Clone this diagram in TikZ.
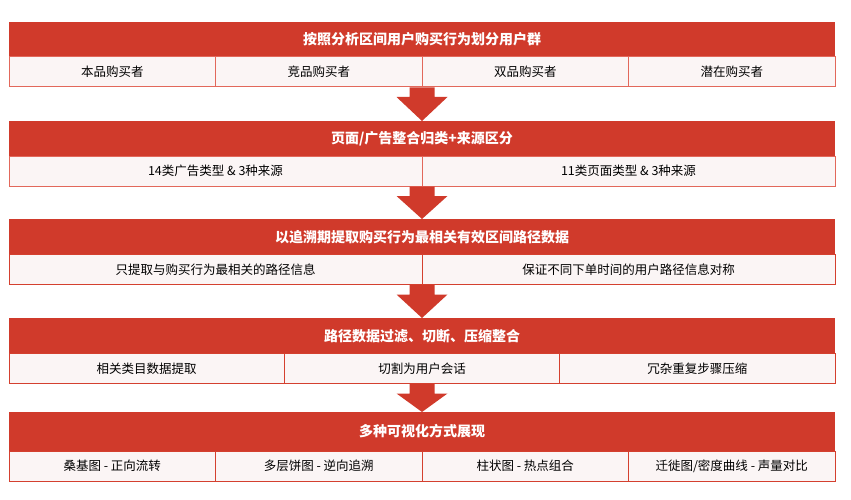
\documentclass[tikz,border=0pt]{standalone}
\usepackage{fontspec}
\newfontfamily\cjk{Noto Sans CJK SC}
\usetikzlibrary{calc}
\definecolor{hdr}{HTML}{D03A2B}
\definecolor{cellbg}{HTML}{FBF5F5}
\definecolor{celllight}{HTML}{E2685B}
\definecolor{celldark}{HTML}{D4402F}
\newcommand{\flowarrow}[2]{%
  \fill[downarrow] ($(#1)+(-12.5,0.5)$) -- ($(#1)+(-12.5,10)$) -- ($(#1)+(-25.5,10)$)
    -- (#2) -- ($(#1)+(25.5,10)$) -- ($(#1)+(12.5,10)$) -- ($(#1)+(12.5,0.5)$) -- cycle;}
\begin{document}
\begin{tikzpicture}[x=1pt,y=-1pt,
  hdrbox/.style={fill=hdr, text=white, minimum width=826pt, minimum height=#1,
    anchor=north west, inner sep=0pt, outer sep=0pt,
    font=\cjk\bfseries\fontsize{14}{16}\selectfont},
  cellbox/.style={fill=cellbg, line width=1pt, minimum width=#1, minimum height=30pt,
    anchor=north west, inner sep=0pt, outer sep=0pt, text=black,
    font=\cjk\fontsize{12.5}{15}\selectfont},
  lightline/.style={draw=celllight},
  darkline/.style={draw=celldark},
  downarrow/.style={fill=hdr}
]
\useasboundingbox (0,0) rectangle (851,500);

% Block 1
\node[hdrbox=35pt] (h1) at (9,22) {按照分析区间用户购买行为划分用户群};
\node[cellbox=206.5pt, lightline] (c11) at (h1.south west) {本品购买者};
\node[cellbox=206.5pt, lightline] (c12) at (c11.north east) {竞品购买者};
\node[cellbox=206.5pt, lightline] (c13) at (c12.north east) {双品购买者};
\node[cellbox=206.5pt, lightline] (c14) at (c13.north east) {潜在购买者};

% Block 2
\node[hdrbox=35pt] (h2) at (9,121) {页面/广告整合归类+来源区分};
\node[cellbox=413pt, lightline] (c21) at (h2.south west) {14类广告类型 \& 3种来源};
\node[cellbox=413pt, lightline] (c22) at (c21.north east) {11类页面类型 \& 3种来源};

% Block 3
\node[hdrbox=35.5pt] (h3) at (9,219) {以追溯期提取购买行为最相关有效区间路径数据};
\node[cellbox=413pt, darkline] (c31) at (h3.south west) {只提取与购买行为最相关的路径信息};
\node[cellbox=413pt, darkline] (c32) at (c31.north east) {保证不同下单时间的用户路径信息对称};

% Block 4
\node[hdrbox=35.5pt] (h4) at (9,318) {路径数据过滤、切断、压缩整合};
\node[cellbox=275.33pt, darkline] (c41) at (h4.south west) {相关类目数据提取};
\node[cellbox=275.33pt, darkline] (c42) at (c41.north east) {切割为用户会话};
\node[cellbox=275.33pt, darkline] (c43) at (c42.north east) {冗杂重复步骤压缩};

% Block 5
\node[hdrbox=39pt] (h5) at (9,412) {多种可视化方式展现};
\node[cellbox=206.5pt, darkline] (c51) at (h5.south west) {桑基图 - 正向流转};
\node[cellbox=206.5pt, darkline] (c52) at (c51.north east) {多层饼图 - 逆向追溯};
\node[cellbox=206.5pt, darkline] (c53) at (c52.north east) {柱状图 - 热点组合};
\node[cellbox=206.5pt, darkline] (c54) at (c53.north east) {迁徙图/密度曲线 - 声量对比};

% Arrows
\coordinate (a1) at (h1.center |- c11.south);
\coordinate (a2) at (h2.center |- c21.south);
\coordinate (a3) at (h3.center |- c31.south);
\coordinate (a4) at (h4.center |- c41.south);
\flowarrow{a1}{h2.north}
\flowarrow{a2}{h3.north}
\flowarrow{a3}{h4.north}
\flowarrow{a4}{h5.north}
\end{tikzpicture}
\end{document}
